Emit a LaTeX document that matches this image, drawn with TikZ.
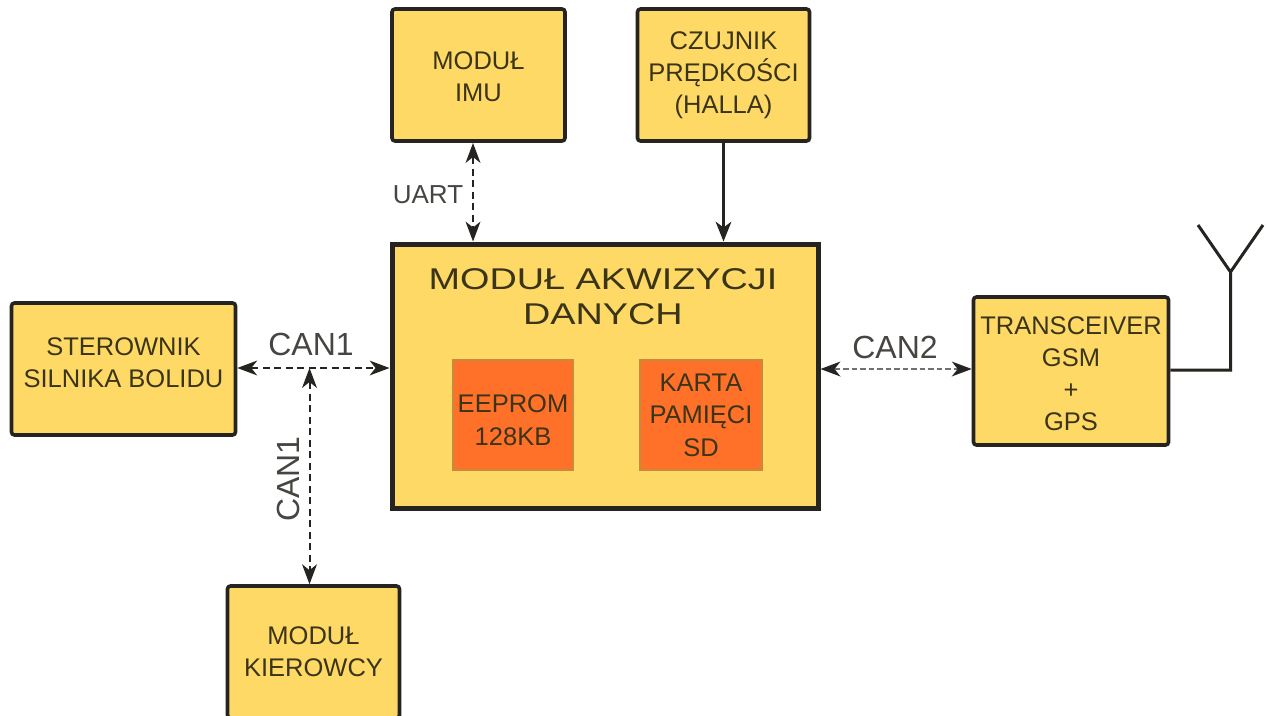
\documentclass[tikz,border=0pt]{standalone}
\usepackage{fontspec}
\setmainfont{Liberation Sans}
\usetikzlibrary{arrows.meta}
\definecolor{boxy}{HTML}{FFD966}
\definecolor{boxo}{HTML}{FF7028}
\definecolor{edgeo}{HTML}{C98A3C}
\definecolor{ink}{HTML}{262420}
\definecolor{txt}{HTML}{3A3418}
\tikzset{
 headtip/.tip={Stealth[length=20pt,width=15pt,inset=6pt,line width=0pt,color=ink]}
}
\begin{document}
\begin{tikzpicture}[x=1pt,y=-1pt,
 lbl/.style={text=ink!85,align=center,inner sep=0pt},
 boxa/.style={draw=ink,line width=3.6pt,fill=boxy,rounded corners=3pt,inner sep=0pt,align=center,text=txt,font=\fontsize{25.5}{32}\selectfont},
 boxm/.style={draw=ink,line width=5pt,fill=boxy,inner sep=0pt},
 boxe/.style={draw=edgeo,line width=2.5pt,fill=boxo,inner sep=0pt,align=center,text=txt,font=\fontsize{25.5}{32.5}\selectfont},
 bus/.style={draw=ink,line width=2pt,dash pattern=on 7pt off 4.5pt,headtip-headtip},
 busthin/.style={bus,draw=ink!65,line width=1.7pt,dash pattern=on 5.5pt off 3pt},
 solidarr/.style={draw=ink,line width=3pt,-{Stealth[length=20pt,width=16pt,inset=6pt,line width=0pt]}}]
\useasboundingbox (0,0) rectangle (1266,715);
\fill[white] (0,0) rectangle (1266,715);
\node[boxa,minimum width=173pt,minimum height=132pt] (imu) at (478.5,75) {\rule{0pt}{21pt}MODUŁ\\IMU};
\node[boxa,minimum width=172pt,minimum height=132pt] (hall) at (723.5,75) {CZUJNIK\\PRĘDKOŚCI\\(HALLA)};
\node[boxm,minimum width=426pt,minimum height=264pt] (main) at (605,376) {};
\node[lbl,text=txt,font=\fontsize{30}{35}\selectfont,xscale=1.26] (mainl) at (603,296.5) {MODUŁ AKWIZYCJI\\DANYCH};
\node[boxe,minimum width=120pt,minimum height=110pt] (eeprom) at (513,415) {\rule{0pt}{28pt}EEPROM\\128KB};
\node[boxe,minimum width=122pt,minimum height=110pt] (sd) at (701,415) {KARTA\\PAMIĘCI\\SD};
\node[boxa,minimum width=224pt,minimum height=132pt] (ster) at (123.5,369) {STEROWNIK\\SILNIKA BOLIDU\rule[-12pt]{0pt}{0pt}};
\node[boxa,minimum width=172pt,minimum height=132pt] (kier) at (313.5,652) {MODUŁ\\KIEROWCY};
\node[boxa,minimum width=195pt,minimum height=148pt] (gsm) at (1071,371) {\rule{0pt}{24pt}TRANSCEIVER\\GSM\\+\\GPS};
\coordinate (j) at (309.5,368);
\coordinate (ant) at (1230.5,272);
\coordinate (antl) at (1198,225);
\coordinate (antr) at (1263,225);
\coordinate (antb) at (1230.5,370);
\coordinate (u) at (473,143);
\coordinate (c) at (0,369);
\draw[bus] (ster.east |- j) -- (main.west |- j);
\draw[bus] (j) -- (j |- kier.north);
\draw[bus] (u) -- (u |- main.north);
\draw[busthin] (main.east |- c) -- (gsm.west |- c);
\draw[solidarr] (hall.south) -- (hall.south |- main.north);
\draw[draw=ink,line width=3pt] (gsm.east |- antb) -- (antb) -- (ant) -- (antl) (ant) -- (antr);
\node[lbl,font=\fontsize{32}{26}\selectfont] (c1) at (311,344) {CAN1};
\node[lbl,font=\fontsize{32}{26}\selectfont,rotate=90] (c1b) at (288,479) {CAN1};
\node[lbl,font=\fontsize{32}{26}\selectfont] (c2) at (895,347) {CAN2};
\node[lbl,font=\fontsize{26}{26}\selectfont] (uart) at (428,195) {UART};
\end{tikzpicture}
\end{document}
